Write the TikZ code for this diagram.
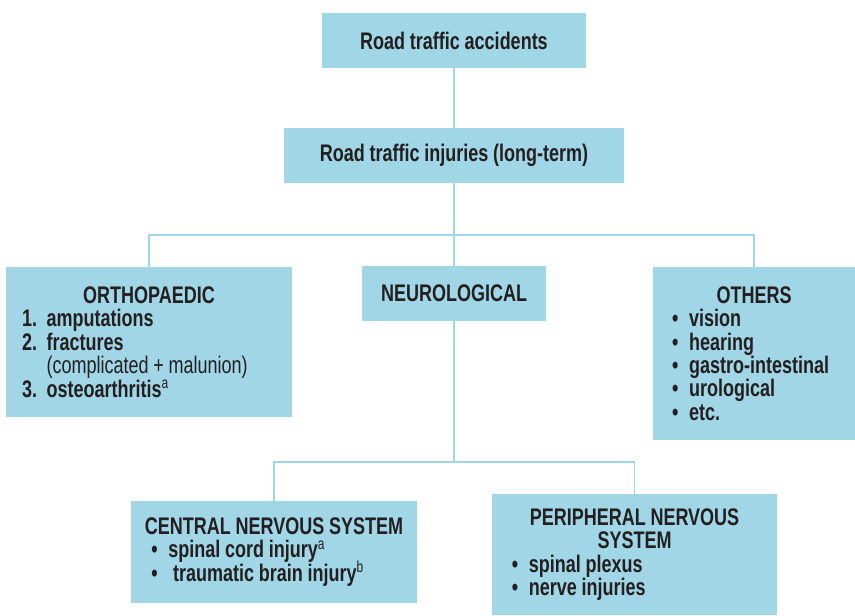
\documentclass[tikz,border=0pt]{standalone}
\usepackage{fontspec}
\setmainfont{Liberation Sans}[FakeStretch=0.75, WordSpace=0.95]
\usepackage{xcolor}

\definecolor{boxblue}{RGB}{160,214,230}
\definecolor{inkgrey}{RGB}{35,31,32}
\newcommand\boxhead[1]{\makebox[\hsize][c]{#1}}
\newcommand\supnote[1]{\raisebox{0.7ex}[0pt][0pt]{\fontsize{12}{12}\selectfont\mdseries #1}}
\newcommand\itm{\textbullet\hspace{0.45em}}

\tikzset{
  box/.style={fill=boxblue, draw=none, text=inkgrey, inner sep=0pt,
    font=\fontsize{18}{17.6}\selectfont\bfseries},
  listbox/.style={box, align=left,
    execute at begin node={\spaceskip=0pt\xspaceskip=0pt}},
  link/.style={draw=boxblue, line width=1.1pt},
}

\begin{document}
\begin{tikzpicture}[x=0.75pt,y=0.75pt,yscale=-1,xscale=1]
\useasboundingbox (0,0) rectangle (855,615);

% Text Node
\node [box, minimum width=198pt, minimum height=41.25pt] (acc) at (454,40.5) {Road traffic accidents};
% Text Node
\node [box, minimum width=255pt, minimum height=41.25pt] (inj) at (454,155.5) {Road traffic injuries (long-term)};
% Text Node
\node [listbox, minimum width=214.5pt, minimum height=112.5pt, text width=190.5pt] (orth) at (149,342) {\boxhead{ORTHOPAEDIC}\\
1.\hspace{0.4em}amputations\\
2.\hspace{0.4em}fractures\\
\phantom{2.}\hspace{0.4em}{\mdseries (complicated + malunion)}\\
3.\hspace{0.4em}osteoarthritis\supnote{a}};
% Text Node
\node [box, minimum width=138pt, minimum height=41.25pt] (neuro) at (454,293.5) {NEUROLOGICAL};
% Text Node
\node [listbox, minimum width=151.5pt, minimum height=129.75pt, text width=123pt] (others) at (754,353.5) {\boxhead{OTHERS}\\
\itm vision\\
\itm hearing\\
\itm gastro-intestinal\\
\itm urological\\
\itm etc.};
% Text Node
\node [listbox, minimum width=214.5pt, minimum height=76.5pt, text width=184pt] (cns) at (274,552) {\boxhead{CENTRAL NERVOUS SYSTEM}\\
\itm spinal cord injury\supnote{a}\\
\itm\ traumatic brain injury\supnote{b}};
% Text Node
\node [listbox, minimum width=213.75pt, minimum height=90.75pt, text width=184pt] (pns) at (634.5,554.5) {\boxhead{PERIPHERAL NERVOUS}\\
\boxhead{SYSTEM}\\
\itm spinal plexus\\
\itm nerve injuries};

\coordinate (forkA) at (454,235);
\coordinate (forkB) at (454,462);

%Straight Lines
\draw [link] (acc) -- (inj);
\draw [link] (inj) -- (neuro);
\draw [link] (orth.north) |- (forkA) -| (others.north);
%Straight Lines
\draw [link] (neuro) -- (forkB);
\draw [link] (cns.north) |- (forkB) -| (pns.north);

\end{tikzpicture}
\end{document}
